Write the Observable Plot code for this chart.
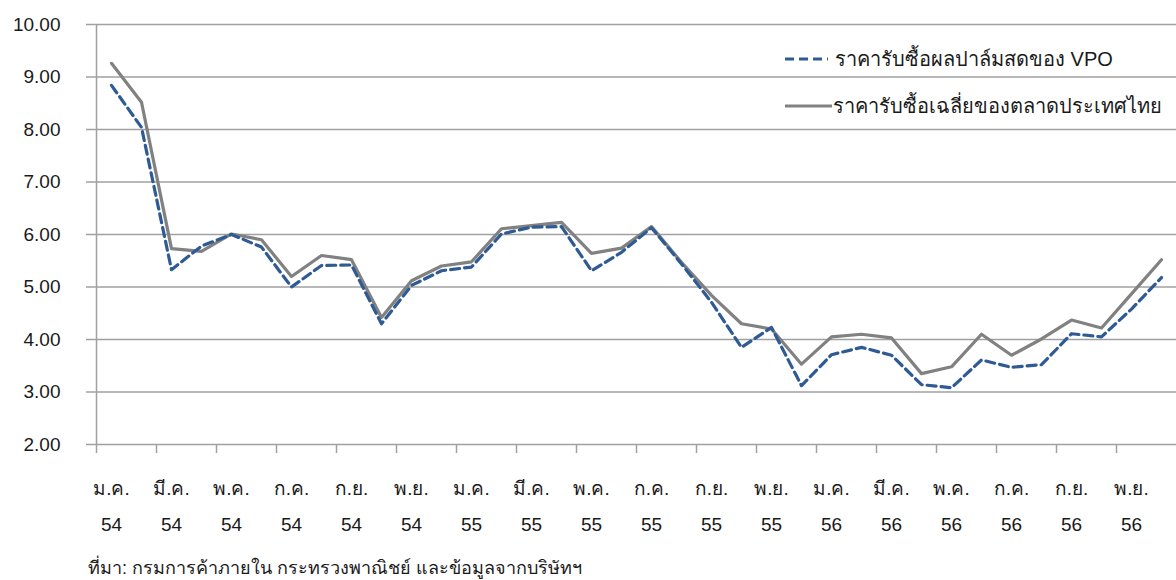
<!DOCTYPE html>
<html>
<head>
<meta charset="utf-8">
<script src="https://cdn.jsdelivr.net/npm/d3@7"></script>
<script src="https://cdn.jsdelivr.net/npm/@observablehq/plot@0.6"></script>
<style>
  body { margin: 0; background: #fff; font-family: "Liberation Sans", Arial, sans-serif; }
  #wrap { position: relative; width: 1176px; height: 580px; background: #fff; }
  #chart svg { display: block; }
  .leg { position: absolute; display: flex; align-items: center; font-size: 20px; color: #1a1a1a; white-space: nowrap; }
  .leg svg { display: block; }
  #caption { position: absolute; left: 88px; top: 553px; font-size: 18px; color: #1a1a1a; white-space: nowrap; }
</style>
</head>
<body>
<div id="wrap">
  <div id="chart"></div>
  <div class="leg" id="leg1" style="left:785px; top:43px;"></div>
  <div class="leg" id="leg2" style="left:785px; top:90px;"></div>
  <div id="caption"></div>
</div>
<script>
// ---- data ----
const monthNames = ["ม.ค.", "ก.พ.", "มี.ค.", "เม.ย.", "พ.ค.", "มิ.ย.", "ก.ค.", "ส.ค.", "ก.ย.", "ต.ค.", "พ.ย.", "ธ.ค."];
const yearNames = ["54", "55", "56"];
const seriesNames = ["ราคารับซื้อผลปาล์มสดของ VPO", "ราคารับซื้อเฉลี่ยของตลาดประเทศไทย"];
const vpoPrice = [8.84, 8.04, 5.33, 5.78, 6.00, 5.76, 5.00, 5.41, 5.42, 4.30, 5.03, 5.31,
                  5.38, 6.01, 6.14, 6.15, 5.31, 5.66, 6.13, 5.44, 4.71, 3.85, 4.23, 3.12,
                  3.71, 3.85, 3.70, 3.14, 3.08, 3.61, 3.47, 3.52, 4.11, 4.05, 4.58, 5.18];
const thaiPrice = [9.26, 8.52, 5.73, 5.68, 6.01, 5.90, 5.20, 5.60, 5.52, 4.42, 5.12, 5.40,
                   5.48, 6.11, 6.17, 6.23, 5.64, 5.74, 6.15, 5.47, 4.84, 4.30, 4.20, 3.53,
                   4.05, 4.10, 4.03, 3.35, 3.48, 4.10, 3.70, 4.01, 4.37, 4.22, 4.87, 5.52];
const yTicks = [2, 3, 4, 5, 6, 7, 8, 9, 10];
const captionText = "ที่มา: กรมการค้าภายใน กระทรวงพาณิชย์ และข้อมูลจากบริษัทฯ";

// ---- derived ----
const rows = vpoPrice.map((v, i) => ({i, vpo: v, thai: thaiPrice[i]}));
const labelIdx = d3.range(0, rows.length, 2);
const tickPos = labelIdx.map(i => i - 0.5);
const gridColor = "#a0a0a0";
const textColor = "#1a1a1a";
const vpoColor = "#2f5b94";
const thaiColor = "#818181";

const chart = Plot.plot({
  width: 1176,
  height: 545,
  marginLeft: 96,
  marginRight: 0,
  marginTop: 24,
  marginBottom: 101,
  style: { fontFamily: "'Liberation Sans', Arial, sans-serif", fontSize: "19px", color: textColor, background: "white" },
  x: { type: "linear", domain: [-0.5, rows.length - 0.5] },
  y: { domain: [2, 10] },
  marks: [
    Plot.gridY(yTicks, { stroke: gridColor, strokeOpacity: 1, strokeWidth: 1.5 }),
    Plot.axisY(yTicks, { tickSize: 10, tickPadding: 26, tickFormat: d => d.toFixed(2), stroke: gridColor, strokeOpacity: 1, strokeWidth: 1.5, fill: textColor, fontSize: 19, label: null }),
    Plot.ruleX([-0.5], { stroke: gridColor, strokeWidth: 1.5 }),
    Plot.axisX(tickPos, { tickSize: 9, tickFormat: () => "", stroke: gridColor, strokeOpacity: 1, strokeWidth: 1.5, label: null }),
    Plot.text(labelIdx, {
      x: d => d,
      frameAnchor: "bottom",
      lineAnchor: "top",
      dy: 25,
      lineHeight: 1.9,
      fontSize: 19,
      fill: textColor,
      text: i => monthNames[i % 12] + "\n" + yearNames[Math.floor(i / 12)]
    }),
    Plot.line(rows, { x: "i", y: "thai", stroke: thaiColor, strokeWidth: 3.2 }),
    Plot.line(rows, { x: "i", y: "vpo", stroke: vpoColor, strokeWidth: 3.2, strokeDasharray: "9,5" })
  ]
});
document.getElementById("chart").appendChild(chart);

// legend (overlay inside plot area, top right)
function swatch(color, dash, w) {
  return `<svg width="${w}" height="10"><line x1="0" x2="${w}" y1="5" y2="5" stroke="${color}" stroke-width="3.2" ${dash ? `stroke-dasharray="${dash}"` : ""}/></svg>`;
}
document.getElementById("leg1").innerHTML = swatch(vpoColor, "9,5", 43) + `<span style="margin-left:7px">${seriesNames[0]}</span>`;
document.getElementById("leg2").innerHTML = swatch(thaiColor, null, 47) + `<span style="margin-left:1px">${seriesNames[1]}</span>`;
document.getElementById("caption").textContent = captionText;
</script>
</body>
</html>
